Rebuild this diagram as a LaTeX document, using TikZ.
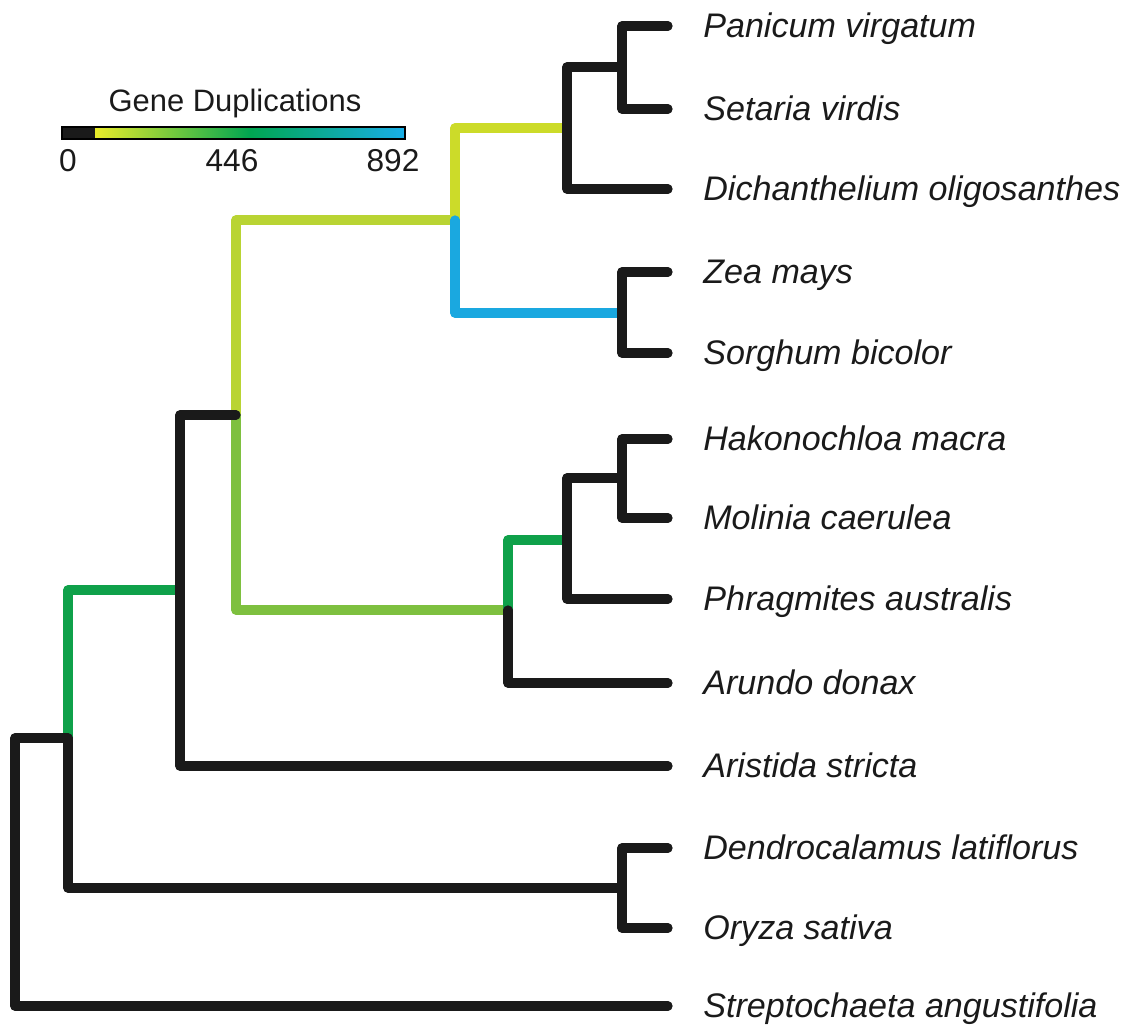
\documentclass[tikz,border=0pt]{standalone}
\usepackage{fontspec}
\setmainfont{Liberation Sans}
\definecolor{txt}{HTML}{1A1A1A}
\definecolor{dup0}{HTML}{1A1A1A}
\definecolor{dupyellow}{HTML}{CCDB29}
\definecolor{duplime}{HTML}{B9D433}
\definecolor{dupleaf}{HTML}{7EC03F}
\definecolor{dupgreen}{HTML}{0FA14A}
\definecolor{dupblue}{HTML}{1AA8E0}
\definecolor{barstart}{HTML}{E9EC2A}
\definecolor{barmid}{HTML}{00A651}
\definecolor{barend}{HTML}{19AEE8}
\begin{document}
\begin{tikzpicture}[x=0.02cm, y=-0.02cm, line join=round, line cap=round,
  branch/.style={line width=0.185cm, draw=dup0},
  leaf/.style={anchor=west, inner xsep=0.7cm, inner ysep=0pt, text=txt,
    text height=15.5pt, text depth=2.1pt, font=\fontsize{19.4}{23}\selectfont\itshape},
  scalelbl/.style={text=txt, inner sep=0pt, font=\fontsize{18}{21}\selectfont}]
\useasboundingbox (0,0) rectangle (1132,1027);
\path
(622,67) coordinate (n1)
(567,128) coordinate (n2)
(622,313) coordinate (n3)
(455,220) coordinate (n4)
(622,478) coordinate (n5)
(567,540) coordinate (n6)
(508,610) coordinate (n7)
(236,415) coordinate (n8)
(180,590) coordinate (n9)
(622,888) coordinate (n10)
(68,738) coordinate (n11)
(15,872) coordinate (root)
;
\node[leaf] (panicum) at (668,26) {Panicum virgatum};
\node[leaf] (setaria) at (668,109) {Setaria virdis};
\node[leaf] (dichan) at (668,189) {Dichanthelium oligosanthes};
\node[leaf] (zea) at (668,272) {Zea mays};
\node[leaf] (sorghum) at (668,353) {Sorghum bicolor};
\node[leaf] (hakono) at (668,439) {Hakonochloa macra};
\node[leaf] (molinia) at (668,518) {Molinia caerulea};
\node[leaf] (phragm) at (668,599) {Phragmites australis};
\node[leaf] (arundo) at (668,683) {Arundo donax};
\node[leaf] (aristida) at (668,766) {Aristida stricta};
\node[leaf] (dendro) at (668,848) {Dendrocalamus latiflorus};
\node[leaf] (oryza) at (668,928) {Oryza sativa};
\node[leaf] (strepto) at (668,1006) {Streptochaeta angustifolia};
\draw[branch, draw=dupgreen] (n11) |- (n9);
\draw[branch, draw=duplime] (n8) |- (n4);
\draw[branch, draw=dupleaf] (n8) |- (n7);
\draw[branch, draw=dupyellow] (n4) |- (n2);
\draw[branch, draw=dupblue] (n4) |- (n3);
\draw[branch, draw=dupgreen] (n7) |- (n6);
\draw[branch] (root) |- (n11);
\draw[branch] (root) |- (strepto.west);
\draw[branch] (n11) |- (n10);
\draw[branch] (n9) |- (n8);
\draw[branch] (n9) |- (aristida.west);
\draw[branch] (n2) |- (n1);
\draw[branch] (n2) |- (dichan.west);
\draw[branch] (n1) |- (panicum.west);
\draw[branch] (n1) |- (setaria.west);
\draw[branch] (n3) |- (zea.west);
\draw[branch] (n3) |- (sorghum.west);
\draw[branch] (n7) |- (arundo.west);
\draw[branch] (n6) |- (n5);
\draw[branch] (n6) |- (phragm.west);
\draw[branch] (n5) |- (hakono.west);
\draw[branch] (n5) |- (molinia.west);
\draw[branch] (n10) |- (dendro.west);
\draw[branch] (n10) |- (oryza.west);
\fill[dup0] (62,127) rectangle (95,139);
\shade[left color=barstart, right color=barmid] (95,127) rectangle (250,139);
\shade[left color=barmid, right color=barend] (250,127) rectangle (405,139);
\draw[line width=1.2pt, line cap=butt, line join=miter] (62,127) rectangle (405,139);
\node[scalelbl, font=\fontsize{17.6}{21}\selectfont] (legtitle) at (235,104) {Gene Duplications};
\node[scalelbl] (lbl0) at (68,161) {0};
\node[scalelbl] (lbl446) at (232,161) {446};
\node[scalelbl] (lbl892) at (393,161) {892};
\end{tikzpicture}
\end{document}
